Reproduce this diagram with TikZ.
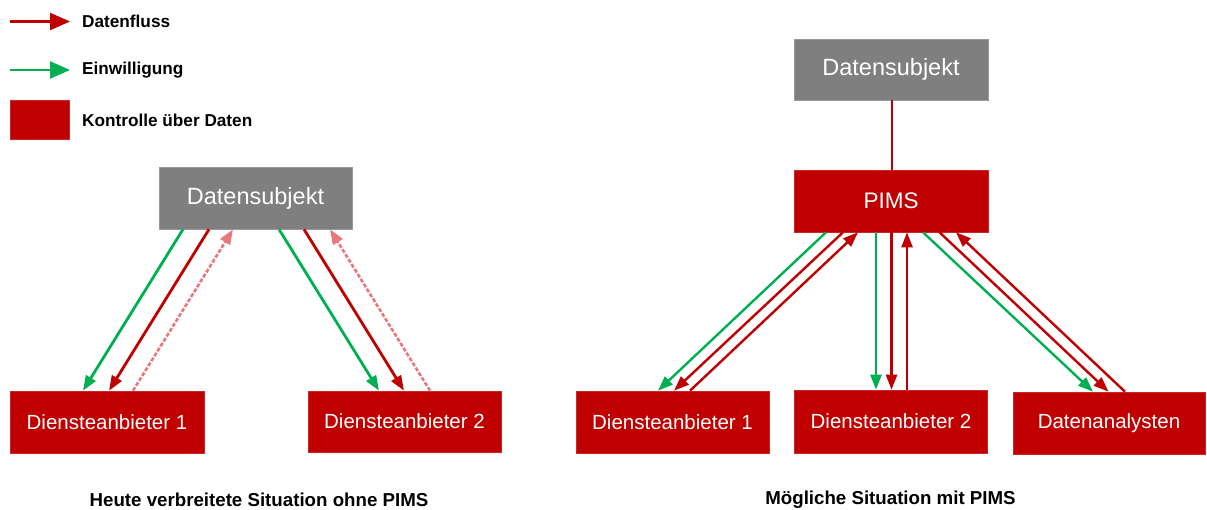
\documentclass[tikz,border=0pt]{standalone}
\usepackage{fontspec}
\setmainfont{Liberation Sans}
\usetikzlibrary{arrows.meta,calc}
\definecolor{dred}{HTML}{C00000}
\definecolor{dgreen}{HTML}{00B050}
\definecolor{dgray}{HTML}{7F7F7F}
\definecolor{lightred}{HTML}{E8787B}
\begin{document}
\begin{tikzpicture}[x=1pt,y=1pt,
  redbox/.style={fill=dred, draw=dred!85!white, line width=0.6pt, text=white, inner sep=0pt,
    minimum width=193pt, minimum height=62pt, font=\fontsize{20.5}{24}\selectfont},
  graybox/.style={fill=dgray, draw=dgray!80!white, line width=0.6pt, text=white, inner sep=0pt,
    minimum width=193pt, minimum height=62pt, font=\fontsize{23.5}{27}\selectfont},
  tipstyle/.style={-{Triangle[length=15pt,width=11pt]}},
  flow/.style={dred, line width=2.8pt, tipstyle},
  consent/.style={dgreen, line width=2.8pt, tipstyle},
  weakflow/.style={lightred, line width=2.6pt, dash pattern=on 4pt off 1.8pt, tipstyle},
  rflow/.style={dred, line width=2.4pt, tipstyle},
  rconsent/.style={dgreen, line width=2.4pt, tipstyle},
  legarrow/.style={line width=2.2pt, -{Triangle[length=20pt,width=17pt]}},
  legtext/.style={anchor=west, inner sep=0pt, font=\bfseries\fontsize{17.2}{20}\selectfont},
  captext/.style={inner sep=0pt, font=\bfseries\fontsize{18.7}{22}\selectfont}]
\useasboundingbox (0,0) rectangle (1207,-510);

% legend
\coordinate (l1a) at (10,-21.5);
\coordinate (l1b) at (70,-21.5);
\coordinate (l2a) at (10,-70);
\coordinate (l2b) at (70,-70);
\draw[legarrow, dred] (l1a) -- (l1b);
\draw[legarrow, dgreen] (l2a) -- (l2b);
\node[legtext] (lt1) at (82,-21) {Datenfluss};
\node[legtext] (lt2) at (82,-70) {Einwilligung};
\node[fill=dred, draw=dred!85!white, line width=0.6pt, minimum width=59pt, minimum height=39pt, inner sep=0pt] (lbox) at (39.5,-119.5) {};
\node[legtext] (lt3) at (82,-120) {Kontrolle über Daten};

% left diagram
\node[graybox] (dsL) at (255.5,-198) {Datensubjekt};
\node[redbox, minimum width=194pt] (da1L) at (107,-422) {Diensteanbieter 1};
\node[redbox, minimum height=61pt] (da2L) at (404.5,-421.5) {Diensteanbieter 2};

\draw[consent] ($(dsL.south)+(-72.5,0)$) -- ($(da1L.north)+(-24,0)$);
\draw[flow] ($(dsL.south)+(-46.5,0)$) -- ($(da1L.north)+(2,0)$);
\draw[weakflow] ($(da1L.north)+(26,0)$) -- ($(dsL.south)+(-22.5,0)$);
\draw[consent] ($(dsL.south)+(23.5,0)$) -- ($(da2L.north)+(-25.5,0)$);
\draw[flow] ($(dsL.south)+(48.5,0)$) -- ($(da2L.north)+(-0.5,0)$);
\draw[weakflow] ($(da2L.north)+(25.5,0)$) -- ($(dsL.south)+(74.5,0)$);

\node[captext] (capL) at (259,-500) {Heute verbreitete Situation ohne PIMS};

% right diagram
\node[graybox, minimum width=194pt, minimum height=61pt] (dsR) at (891,-69.5) {Datensubjekt};
\node[redbox, minimum width=194pt, font=\fontsize{22.5}{26}\selectfont] (pims) at (891,-201) {PIMS};
\node[redbox] (da1R) at (672.5,-422) {Diensteanbieter 1};
\node[redbox, minimum height=63pt] (da2R) at (891,-421.5) {Diensteanbieter 2};
\node[redbox, minimum width=192pt] (dan) at (1109,-423) {Datenanalysten};

\draw[dred, line width=2.4pt] ($(dsR.south)+(1,0)$) -- ($(pims.north)+(1,0)$);

\draw[rconsent] ($(pims.south)+(-65,0)$) -- ($(da1R.north)+(-14.5,0)$);
\draw[rflow] ($(pims.south)+(-48,0)$) -- ($(da1R.north)+(1.5,0)$);
\draw[rflow] ($(da1R.north)+(17.5,0)$) -- ($(pims.south)+(-33,0)$);

\draw[rconsent] ($(pims.south)+(-15,0)$) -- ($(da2R.north)+(-15,0)$);
\draw[rflow] ($(pims.south)+(0.5,0)$) -- ($(da2R.north)+(0.5,0)$);
\draw[rflow] ($(da2R.north)+(16,0)$) -- ($(pims.south)+(16,0)$);

\draw[rconsent] ($(pims.south)+(32,0)$) -- ($(dan.north)+(-16,0)$);
\draw[rflow] ($(pims.south)+(48.5,0)$) -- ($(dan.north)+(-0.5,0)$);
\draw[rflow] ($(dan.north)+(16,0)$) -- ($(pims.south)+(65,0)$);

\node[captext] (capR) at (890.5,-500) {Mögliche Situation mit PIMS};
\end{tikzpicture}
\end{document}
